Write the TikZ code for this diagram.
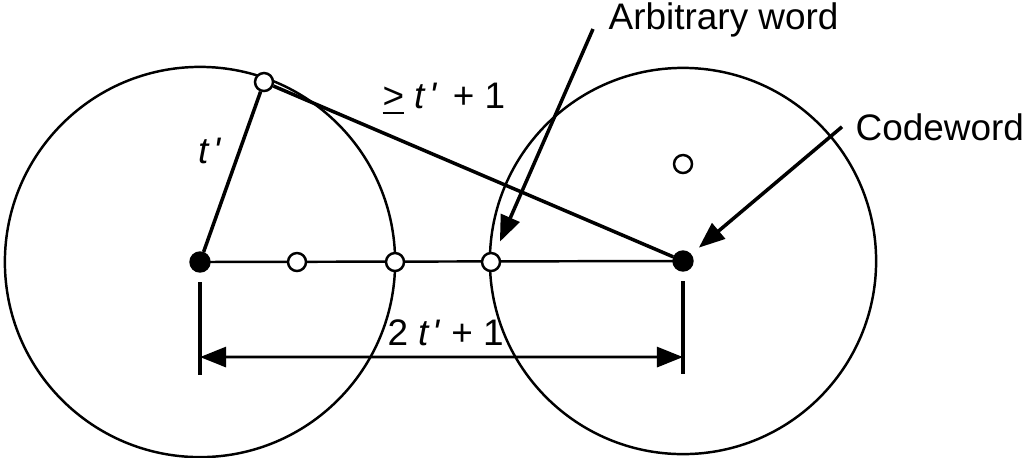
\documentclass[tikz,border=0pt]{standalone}
\usepackage{fontspec}
\setmainfont{Liberation Sans}
\usetikzlibrary{arrows.meta,backgrounds}
\newcommand{\tpr}{\textit{t}\kern0.08em\textit{\textquotesingle}}

\begin{document}
\begin{tikzpicture}[x=0.01cm,y=-0.01cm,
  every node/.style={font=\fontsize{10.5}{12}\selectfont},
  fulldot/.style={circle,fill=black,draw=black,inner sep=0pt,minimum size=0.2cm},
  opendot/.style={circle,fill=white,draw=black,line width=0.7pt,inner sep=0pt,minimum size=0.18cm},
  lbl/.style={anchor=base west,inner sep=0pt},
  thinline/.style={line width=0.7pt},
  thickline/.style={line width=1pt},
  pointer/.style={-{Triangle[length=0.26cm,width=0.2cm]},line width=1pt}]
\useasboundingbox (0,0) rectangle (1034,457);

% codewords and words
\node[fulldot] (cL) at (200,262) {};
\node[fulldot] (cR) at (683,261) {};
\foreach \x/\n in {297/w1,395/w2,491/w3}
  \node[opendot] (\n) at (\x,262) {};
\node[opendot] (wt) at (264,82) {};
\node[opendot] (wr) at (683,164) {};

% labels
\node[lbl] (arb) at (608,29) {Arbitrary word};
\node[lbl] (cw) at (855,140) {Codeword};
\node[lbl] (rad) at (198,163) {\tpr};
\node[lbl] (far) at (382,108) {\underline{>} \tpr\ \kern0.15em+ 1};
\node[lbl] (dist) at (387,345) {2 \tpr\ + 1};

\begin{scope}[on background layer]
\draw[thinline] (cL) circle[radius=1.95cm];
\draw[thinline] (cR) circle[radius=1.93cm];
\draw[thinline] (cL.center) -- (cR.center);
\draw[thickline] (cL) -- (wt);
\draw[thickline] (wt) -- (cR);
\end{scope}

\draw[pointer,shorten >=0.12cm] ([xshift=-0.15cm]arb.base west) -- (w3);
\draw[pointer,shorten >=0.1cm] ([xshift=-0.13cm]cw.west) -- (cR);

% distance between the codewords
\foreach \c in {cL,cR}
  \draw[thickline] ([yshift=-0.2cm]\c.center) -- ([yshift=-1.13cm]\c.center);
\draw[{Triangle[length=0.26cm,width=0.2cm]}-{Triangle[length=0.26cm,width=0.2cm]},line width=0.8pt]
  ([yshift=-0.95cm]cL.center) -- ([yshift=-0.96cm]cR.center);
\end{tikzpicture}
\end{document}
